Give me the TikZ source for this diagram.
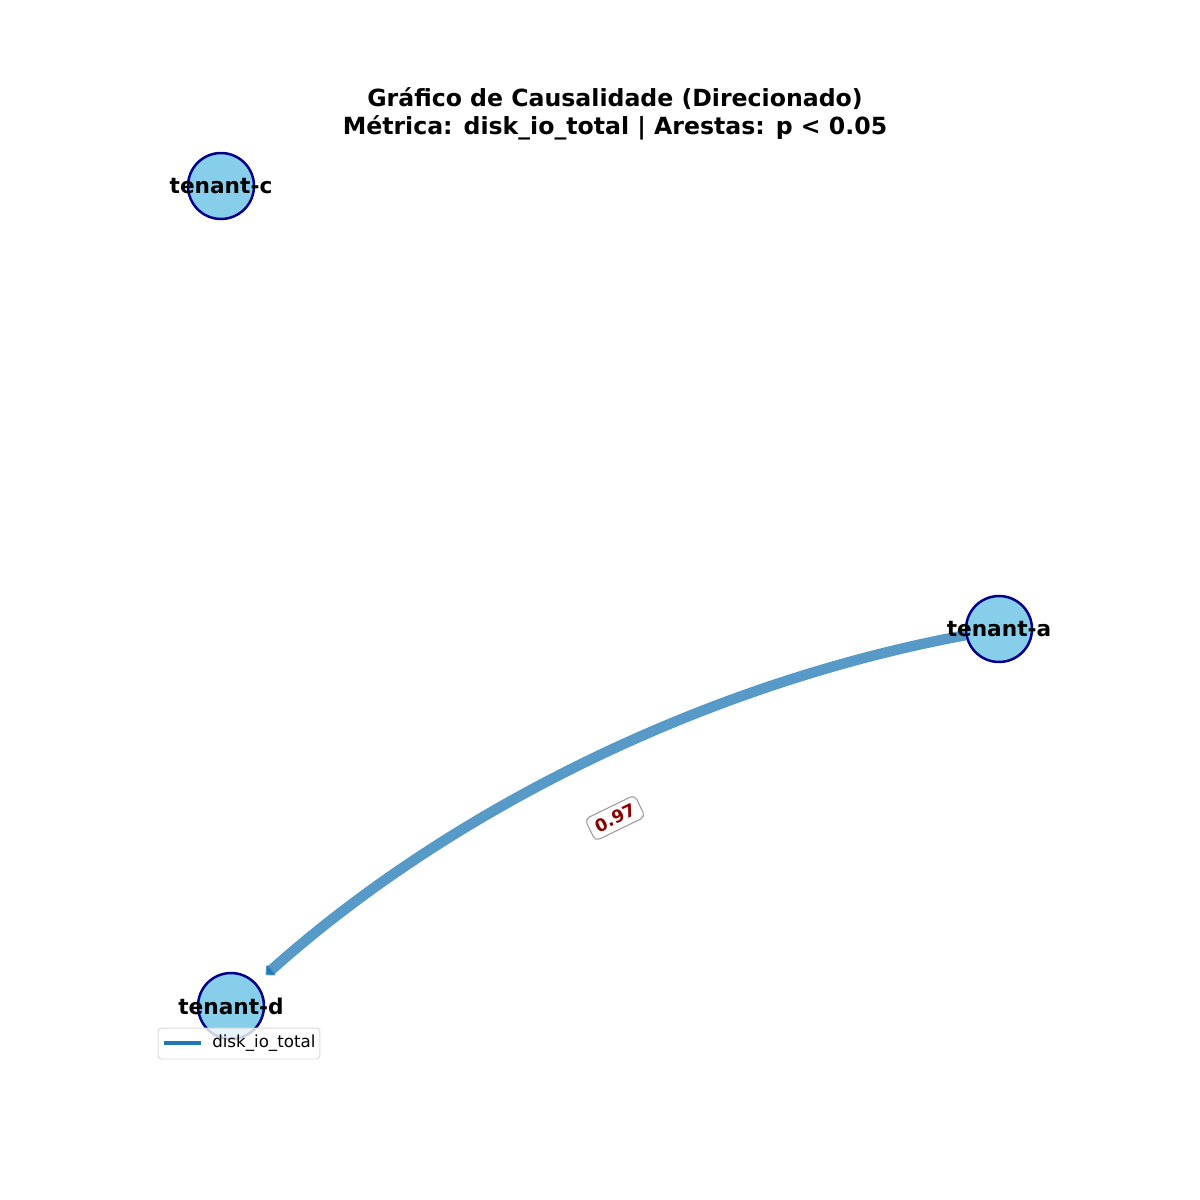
\documentclass[tikz,border=0pt]{standalone}
\usepackage{fontspec}
\setmainfont{DejaVu Sans}
\usetikzlibrary{arrows.meta}
\definecolor{nodefill}{HTML}{87CEEB}
\definecolor{nodeedge}{HTML}{00008B}
\definecolor{edgeblue}{HTML}{1F77B4}
\definecolor{labelred}{HTML}{8B0000}
\tikzset{
  tenant/.style={circle, draw=nodeedge, fill=nodefill, line width=1.8pt, minimum size=47.5pt, inner sep=0pt},
  tlabel/.style={font=\fontsize{15.6}{18}\selectfont\bfseries, text=black},
  causal/.style={draw=edgeblue, draw opacity=0.75, line width=7.5pt, -{Triangle[length=6pt,width=11pt,round]}, shorten >=9pt, shorten <=0pt},
  weightbox/.style={draw=gray!75, fill=white, rounded corners=3.5pt, line width=0.8pt, text=labelred, font=\fontsize{12.5}{14}\selectfont\bfseries, inner xsep=4.5pt, inner ysep=4pt, rotate=26},
  titletext/.style={font=\fontsize{17}{20}\selectfont\bfseries, align=center}
}
\begin{document}
\begin{tikzpicture}[x=0.72pt,y=-0.72pt]
\useasboundingbox (0,0) rectangle (1200,1200);
\node[titletext] (title) at (615,114) {Gráfico de Causalidade (Direcionado)\\Métrica: disk\_io\_total | Arestas: p < 0.05};
\node[tenant] (c) at (221,186) {};
\node[tenant] (a) at (999,629) {};
\node[tenant] (d) at (231,1006) {};
\coordinate (ctrl1) at (707.7,683);
\coordinate (ctrl2) at (451.7,808.7);
\draw[causal] (a) .. controls (ctrl1) and (ctrl2) .. (d);
\node[tlabel] (lc) at (c) {tenant-c};
\node[tlabel] (la) at (a) {tenant-a};
\node[tlabel] (ld) at (d) {tenant-d};
\node[weightbox] (w) at (615,818) {0.97};
\node[draw=gray!30, fill=white, fill opacity=0.8, text opacity=1, rounded corners=2.5pt, line width=0.7pt, minimum width=116.6pt, minimum height=22.3pt] (legend) at (239,1043.5) {};
\coordinate (l1) at (164,1043);
\coordinate (l2) at (201,1043);
\draw[edgeblue, line width=3pt] (l1) -- (l2);
\node[anchor=west, font=\fontsize{12}{14}\selectfont, inner sep=0pt] (ltext) at (212,1043) {disk\_io\_total};
\end{tikzpicture}
\end{document}
